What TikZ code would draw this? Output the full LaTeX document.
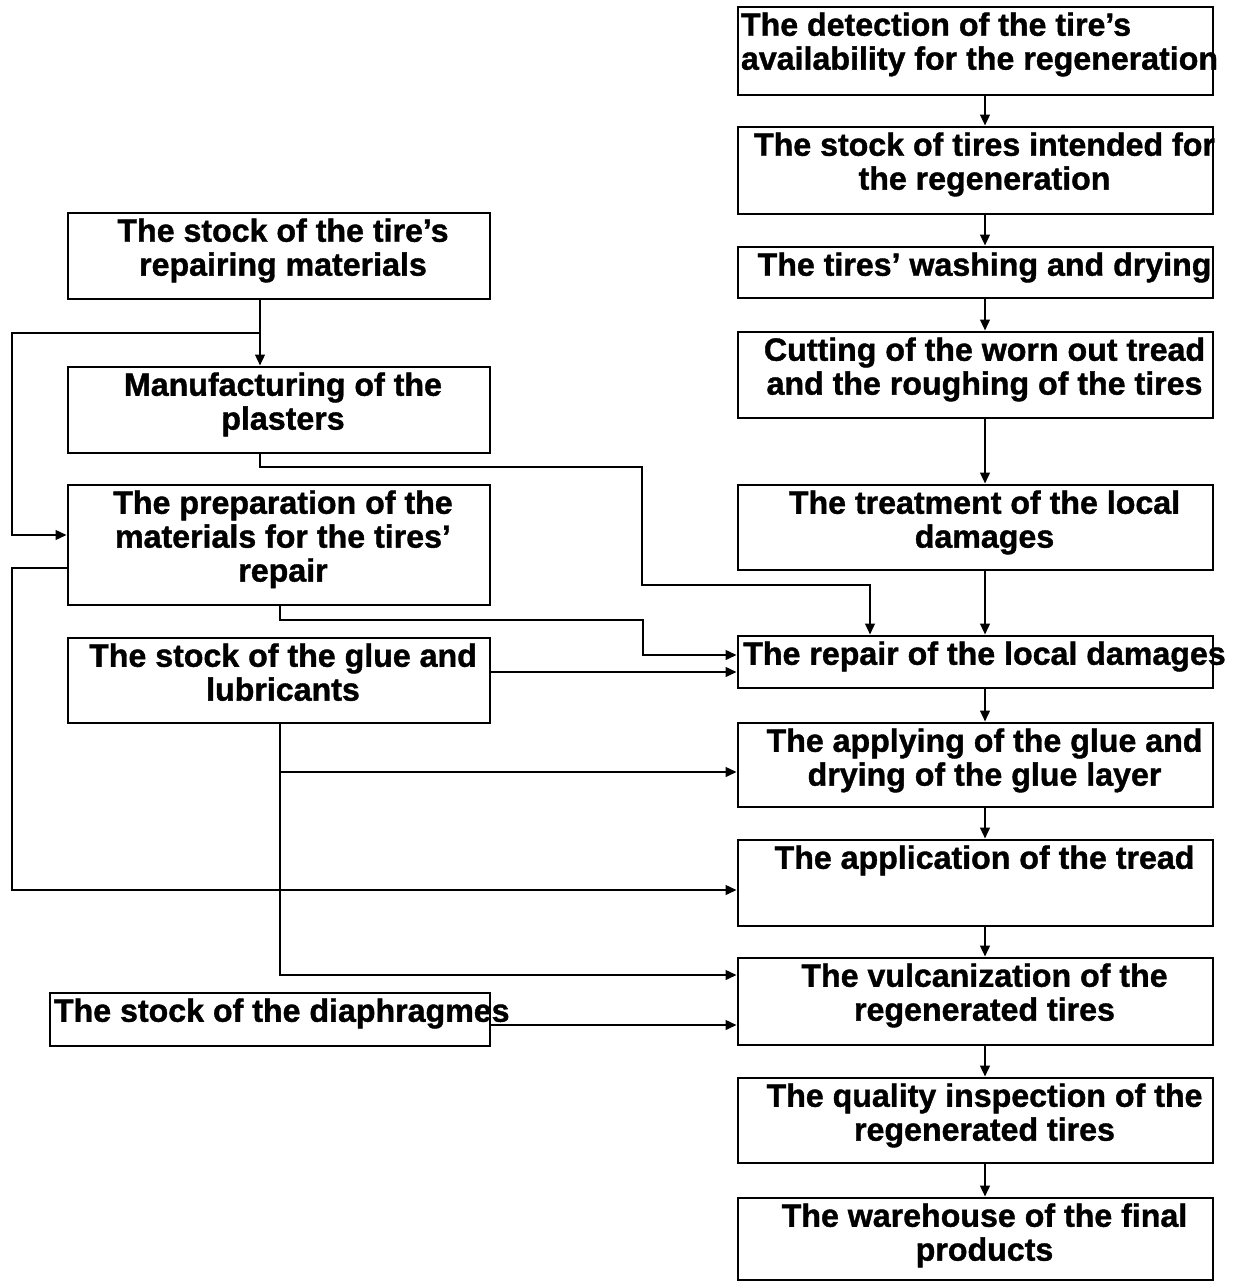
\documentclass[tikz,border=0pt]{standalone}
\usepackage{fontspec}
\setmainfont{Liberation Sans}[BoldFeatures={FakeBold=1.2}]
\usetikzlibrary{positioning, arrows.meta}

\begin{document}
\begin{tikzpicture}[x=0.02cm,y=-0.02cm,>={Triangle[length=0.22cm,width=0.19cm]},
  box/.style={draw,line width=1.6pt,rectangle,inner sep=0pt},
  rbox/.style={box,minimum width=9.5cm},
  lbox/.style={box,minimum width=8.44cm},
  txt/.style={font=\fontsize{18.3}{19.3}\selectfont\bfseries,align=center,inner sep=0pt},
  rtxt/.style={txt,xshift=0.18cm},
  ltxt/.style={txt,xshift=0.08cm},
  flow/.style={->,line width=1.4pt}]
  \useasboundingbox (0,0) rectangle (1234,1283);

  % main line of the regeneration
  \node[rbox,minimum height=1.76cm] (det) at (975.5,51) {};
  \node[txt,align=left,below right=0.13cm and 0.08cm of det.north west] (det-t)
       {The detection of the tire’s\\availability for the regeneration};
  \node[rbox,minimum height=1.74cm] (rstock) at (975.5,170.5) {};
  \node[rtxt,below=0.13cm of rstock.north] (rstock-t)
       {The stock of tires intended for\\the regeneration};
  \node[rbox,minimum height=1.02cm] (wash) at (975.5,272.5) {};
  \node[rtxt,below=0.13cm of wash.north] (wash-t) {The tires’ washing and drying};
  \node[rbox,minimum height=1.72cm] (cut) at (975.5,375) {};
  \node[rtxt,below=0.13cm of cut.north] (cut-t)
       {Cutting of the worn out tread\\and the roughing of the tires};
  \node[rbox,minimum height=1.70cm] (treat) at (975.5,527.5) {};
  \node[rtxt,below=0.13cm of treat.north] (treat-t) {The treatment of the local\\damages};
  \node[rbox,minimum height=1.04cm] (repair) at (975.5,662) {};
  \node[rtxt,below=0.13cm of repair.north] (repair-t) {The repair of the local damages};
  \node[rbox,minimum height=1.68cm] (glue) at (975.5,765) {};
  \node[rtxt,below=0.13cm of glue.north] (glue-t)
       {The applying of the glue and\\drying of the glue layer};
  \node[rbox,minimum height=1.72cm] (tread) at (975.5,883) {};
  \node[rtxt,below=0.13cm of tread.north] (tread-t) {The application of the tread};
  \node[rbox,minimum height=1.74cm] (vulc) at (975.5,1001.5) {};
  \node[rtxt,below=0.13cm of vulc.north] (vulc-t) {The vulcanization of the\\regenerated tires};
  \node[rbox,minimum height=1.70cm] (qual) at (975.5,1120.5) {};
  \node[rtxt,below=0.13cm of qual.north] (qual-t)
       {The quality inspection of the\\regenerated tires};
  \node[rbox,minimum height=1.64cm] (ware) at (975.5,1239) {};
  \node[rtxt,below=0.13cm of ware.north] (ware-t) {The warehouse of the final\\products};

  % materials
  \node[lbox,minimum height=1.72cm] (mat) at (279,256) {};
  \node[ltxt,below=0.13cm of mat.north] (mat-t) {The stock of the tire’s\\repairing materials};
  \node[lbox,minimum height=1.72cm] (plast) at (279,410) {};
  \node[ltxt,below=0.13cm of plast.north] (plast-t) {Manufacturing of the\\plasters};
  \node[lbox,minimum height=2.4cm] (prep) at (279,545) {};
  \node[ltxt,below=0.13cm of prep.north] (prep-t)
       {The preparation of the\\materials for the tires’\\repair};
  \node[lbox,minimum height=1.70cm] (lub) at (279,680.5) {};
  \node[ltxt,below=0.13cm of lub.north] (lub-t) {The stock of the glue and\\lubricants};
  \node[box,minimum width=8.8cm,minimum height=1.06cm] (diaph) at (270,1019.5) {};
  \node[txt,align=left,below right=0.13cm and 0.1cm of diaph.north west] (diaph-t)
       {The stock of the diaphragmes};

  % bends
  \coordinate (m) at (985,0);
  \coordinate (j1) at (260,333);
  \coordinate (l1) at (12,333);
  \coordinate (l2) at (12,535);
  \coordinate (b1) at (642,467);
  \coordinate (b2) at (870,585);
  \coordinate (c1) at (643,620);
  \coordinate (c2) at (700,655);
  \coordinate (d1) at (600,672);
  \coordinate (l3) at (12,568);
  \coordinate (l4) at (12,890);
  \coordinate (g1) at (280,772);
  \coordinate (g2) at (280,975);
  \coordinate (e1) at (600,1025);

  \foreach \a/\b in {det/rstock,rstock/wash,wash/cut,cut/treat,treat/repair,
                     repair/glue,glue/tread,tread/vulc,vulc/qual,qual/ware}
    \draw[flow] (\a.south -| m) -- (\b.north -| m);
  \draw[flow] (mat.south -| j1) -- (plast.north -| j1);
  \draw[flow] (j1) -- (l1) -- (l2) -- (prep.west |- l2);
  \draw[flow] (plast.south -| j1) |- (b1) |- (b2) -- (repair.north -| b2);
  \draw[flow] (prep.south -| g1) |- (c1) |- (repair.west |- c2);
  \draw[flow] (lub.east |- d1) -- (repair.west |- d1);
  \draw[flow] (prep.west |- l3) -- (l3) -- (l4) -- (tread.west |- l4);
  \draw[flow] (lub.south -| g2) |- (vulc.west |- g2);
  \draw[flow] (g1) -- (glue.west |- g1);
  \draw[flow] (diaph.east |- e1) -- (vulc.west |- e1);
\end{tikzpicture}
\end{document}
